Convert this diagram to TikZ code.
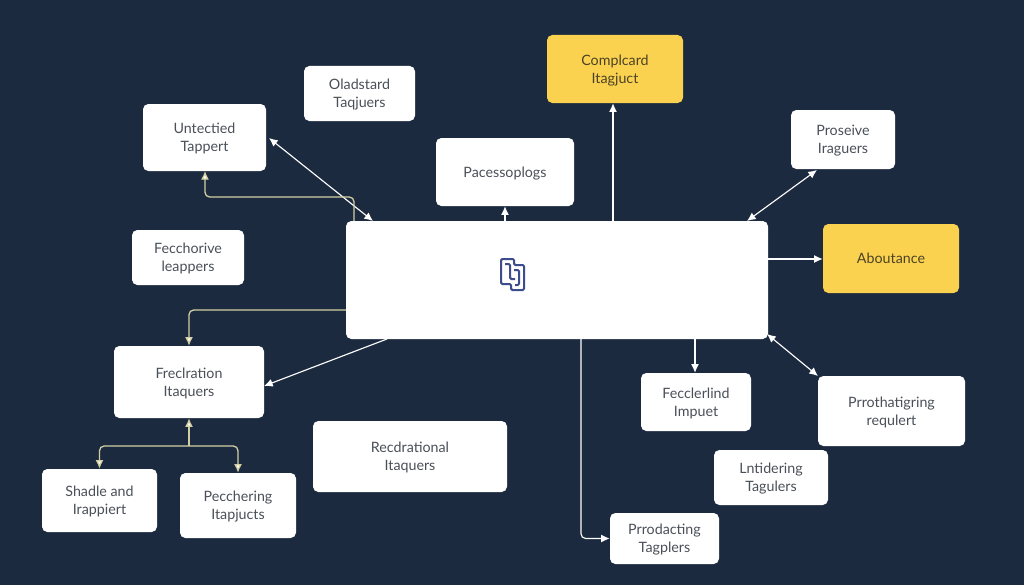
\documentclass[tikz,border=0pt]{standalone}
\usepackage{fontspec}
\setmainfont{Lato}
\usetikzlibrary{arrows.meta,calc}
\definecolor{bg}{HTML}{1C2A40}
\definecolor{amber}{HTML}{FBD150}
\definecolor{ink}{HTML}{4A4F58}
\definecolor{inkdark}{HTML}{4A4326}
\definecolor{olive}{HTML}{D2CFA2}
\definecolor{iconblue}{HTML}{3D4C8C}
\tikzset{
  x=0.75pt,y=-0.75pt,
  card/.style={fill=white,rounded corners=4pt,inner sep=0pt,align=center,text=ink,font=\fontsize{10.7}{13.5}\selectfont},
  goldcard/.style={card,fill=amber,text=inkdark},
  link/.style={draw=white,line width=0.85pt,-{Latex[length=6.5pt,width=6pt]}},
  twoway/.style={link,{Latex[length=6.5pt,width=6pt]}-{Latex[length=6.5pt,width=6pt]}},
  bent/.style={draw=olive,line width=0.95pt,rounded corners=3.5pt,-{Latex[length=6.5pt,width=6pt,fill=white]}},
  glyph/.style={draw=iconblue,line width=1.5pt,rounded corners=1pt}
}
% name, x1, y1, x2, y2, style, text
\newcommand{\cardat}[7]{%
  \node[#6,minimum width=(#4-#2)*0.75pt,minimum height=(#5-#3)*0.75pt] (#1) at ({(#2+#4)/2},{(#3+#5)/2}) {\rule{0pt}{11pt}#7\rule[-3pt]{0pt}{3pt}};}
\begin{document}
\begin{tikzpicture}
\fill[bg] (0,0) rectangle (1024,585);
\useasboundingbox (0,0) rectangle (1024,585);
\cardat{main}{346}{221}{768}{339}{card}{}
\cardat{olad}{304}{66}{415}{121}{card}{Oladstard\\Taqjuers}
\cardat{unte}{143}{104}{266}{171}{card}{Untectied\\Tappert}
\cardat{fecc}{132}{230}{244}{285}{card}{Fecchorive\\leappers}
\cardat{comp}{547}{35}{683}{103}{goldcard}{Complcard\\Itagjuct}
\cardat{pace}{436}{138}{574}{206}{card}{Pacessoplogs}
\cardat{pros}{791}{110}{895}{169}{card}{Proseive\\Iraguers}
\cardat{abou}{823}{224}{959}{293}{goldcard}{Aboutance}
\cardat{frec}{114}{346}{264}{418}{card}{Freclration\\Itaquers}
\cardat{shad}{42}{469}{157}{532}{card}{Shadle and\\Irappiert}
\cardat{pech}{180}{473}{296}{538}{card}{Pecchering\\Itapjucts}
\cardat{recd}{313}{421}{507}{492}{card}{Recdrational\\Itaquers}
\cardat{fecl}{641}{373}{751}{431}{card}{Fecclerlind\\Impuet}
\cardat{prro}{818}{376}{965}{446}{card}{Prrothatigring\\requlert}
\cardat{lnti}{714}{450}{828}{505}{card}{Lntidering\\Tagulers}
\cardat{prod}{610}{513}{719}{564}{card}{Prrodacting\\Tagplers}
% free connector ends
\coordinate (mA) at (373,221);
\coordinate (mB) at (354,221);
\coordinate (mC) at (346,310);
\coordinate (mD) at (387,339);
\coordinate (mE) at (581,339);
\coordinate (mF) at (695,339);
\coordinate (mG) at (767,334);
\coordinate (mH) at (768,259);
\coordinate (mI) at (747,221);
\coordinate (mJ) at (613,221);
\coordinate (mK) at (505,221);
\coordinate (uE) at (269,138);
\coordinate (uF) at (205,171);
\coordinate (fE) at (264,386);
\coordinate (pE) at (817,170);
\coordinate (rE) at (818,376);
\coordinate (fork) at (189,446);
% connectors
\draw[twoway] (uE) -- (mA);
\draw[bent] (mB) -- (354,197) -- (205,197) -- (uF);
\draw[bent] (mC) -- (mC -| frec.north) -- (frec.north);
\draw[link] (mD) -- (fE);
\draw[bent] (fork) -- (frec.south);
\draw[bent] (fork) -- (fork -| shad.north) -- (shad.north);
\draw[bent] (fork) -- (fork -| pech.north) -- (pech.north);
\draw[link,rounded corners=3.5pt] (mE) -- (mE |- prod.west) -- (prod.west);
\draw[link] (mF) -- (mF |- fecl.north);
\draw[twoway] (mG) -- (rE);
\draw[link] (mH) -- (mH -| abou.west);
\draw[twoway] (pE) -- (mI);
\draw[link] (mJ) -- (mJ |- comp.south);
\draw[link] (mK) -- (mK |- pace.south);
% emblem on the central card
\draw[glyph] (501,259) -- (514,259) -- (514,265) -- (524,265) -- (524,290) -- (511,290) -- (511,284) -- (501,284) -- cycle;
\draw[glyph] (505,264) -- (510,264) -- (510,279) -- (515,279);
\draw[glyph] (514,270) -- (519,270) -- (519,285) -- (515,285);
\end{tikzpicture}
\end{document}
